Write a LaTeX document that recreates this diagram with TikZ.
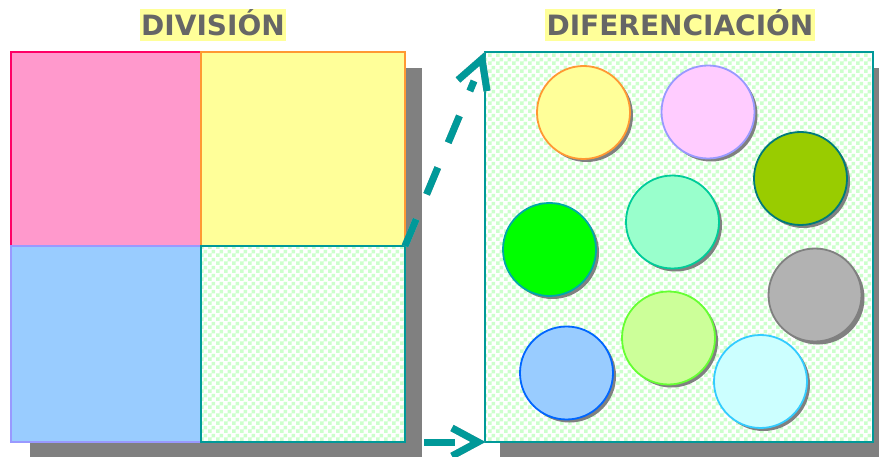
\documentclass[tikz,border=0pt]{standalone}
\usepackage{fontspec}
\setmainfont{DejaVu Sans}
\usetikzlibrary{patterns.meta,shadows}
\definecolor{titlegray}{HTML}{666666}
\definecolor{hilite}{HTML}{FFFF99}
\definecolor{boxshadow}{HTML}{808080}
\definecolor{arrowshadow}{HTML}{A8A8A8}
\definecolor{teal}{HTML}{009999}
\definecolor{checkgreen}{HTML}{CCFFCC}
\definecolor{pinkf}{HTML}{FF99CC}\definecolor{pinkd}{HTML}{FF0066}
\definecolor{yellf}{HTML}{FFFF99}\definecolor{yelld}{HTML}{FF9933}
\definecolor{bluef}{HTML}{99CCFF}\definecolor{blued}{HTML}{9999FF}
\definecolor{lilacf}{HTML}{FFCCFF}
\definecolor{olivef}{HTML}{99CC00}\definecolor{olived}{HTML}{007A7A}
\definecolor{greenf}{HTML}{00FF00}\definecolor{greend}{HTML}{00A8A8}
\definecolor{mintf}{HTML}{99FFCC}\definecolor{mintd}{HTML}{00CC99}
\definecolor{grayf}{HTML}{B2B2B2}\definecolor{grayd}{HTML}{808080}
\definecolor{lgreenf}{HTML}{CCFF99}\definecolor{lgreend}{HTML}{66FF33}
\definecolor{ballbluef}{HTML}{99CCFF}\definecolor{ballblued}{HTML}{0066FF}
\definecolor{cyanf}{HTML}{CCFFFF}\definecolor{cyand}{HTML}{33CCFF}
\tikzdeclarepattern{
  name=mycheck,
  type=uncolored,
  bounding box={(0pt,0pt) and (8pt,8pt)},
  tile size={(8pt,8pt)},
  code={
    \pgfpathrectangle{\pgfpointorigin}{\pgfpoint{4pt}{4pt}}
    \pgfpathrectangle{\pgfpoint{4pt}{4pt}}{\pgfpoint{4pt}{4pt}}
    \pgfusepath{fill}
  }
}
\tikzset{
  title/.style={fill=hilite, text=titlegray, font=\bfseries\fontsize{28}{30}\selectfont,
    text height=20.4pt, text depth=0pt, inner ysep=5.8pt, inner xsep=1.5pt},
  quad/.style={rectangle, inner sep=0pt, outer sep=0pt, line width=1.5pt},
  checkfill/.style={preaction={fill=white}, pattern={mycheck}, pattern color=checkgreen},
  ball/.style={circle, minimum size=93pt, inner sep=0pt, line width=1.8pt,
    drop shadow={shadow xshift=3pt, shadow yshift=-3pt, fill=boxshadow, opacity=1}},
  arrowline/.style={draw=teal, line width=7pt, line cap=butt, line join=miter},
  arrowshade/.style={draw=arrowshadow, line width=7pt, line cap=butt, line join=miter, shift={(3,3)}}
}
\begin{document}
\begin{tikzpicture}[x=1pt,y=-1pt]
\useasboundingbox (0,0) rectangle (879,457);
% titles
\node[title] (t1) at (213,25) {DIVISIÓN};
\node[title] (t2) at (680,25) {DIFERENCIACIÓN};
% shadows of big boxes
\fill[boxshadow] (30,68) rectangle (422,460);
\fill[boxshadow] (500,68) rectangle (890,460);
% left division
\node[quad, fill=pinkf, draw=pinkd, minimum width=190pt, minimum height=194pt] (tl) at (106,149) {};
\node[quad, fill=yellf, draw=yelld, minimum width=204pt, minimum height=194pt] (tr) at (303,149) {};
\node[quad, fill=bluef, draw=blued, minimum width=190pt, minimum height=196pt] (bl) at (106,344) {};
\node[quad, checkfill, draw=teal, minimum width=204pt, minimum height=196pt] (br) at (303,344) {};
% right box
\node[quad, checkfill, draw=teal, line width=2pt, minimum width=388pt, minimum height=390pt] (rb) at (679,247) {};
% balls
\node[ball, fill=yellf, draw=yelld] (b1) at (583.5,112.5) {};
\node[ball, fill=lilacf, draw=blued] (b2) at (708,112) {};
\node[ball, fill=olivef, draw=olived] (b3) at (800.5,178.5) {};
\node[ball, fill=greenf, draw=greend] (b4) at (549.5,249.5) {};
\node[ball, fill=mintf, draw=mintd] (b5) at (672.5,222) {};
\node[ball, fill=grayf, draw=grayd] (b6) at (815,295) {};
\node[ball, fill=lgreenf, draw=lgreend] (b7) at (668.5,338) {};
\node[ball, fill=ballbluef, draw=ballblued] (b8) at (566.5,373) {};
\node[ball, fill=cyanf, draw=cyand] (b9) at (760.5,381.5) {};
% dashed arrow
\coordinate (dA) at (tr.south east);
\coordinate (dB) at (474,81);
\coordinate (dT) at (482,59);
\coordinate (dL) at (458,80);
\coordinate (dR) at (487,91);
\draw[arrowshade, dash pattern=on 29pt off 27pt] (dA) -- (dB);
\draw[arrowshade] (dL) -- (dT) -- (dR);
\draw[arrowline, dash pattern=on 29pt off 27pt] (dA) -- (dB);
\draw[arrowline] (dL) -- (dT) -- (dR);
% horizontal arrow
\coordinate (hA) at (424,442);
\coordinate (hB) at (455,442);
\coordinate (hT) at (478,442);
\coordinate (hL) at (452,428);
\coordinate (hR) at (452,456);
\draw[arrowshade] (hA) -- (hB);
\draw[arrowshade] (hL) -- (hT) -- (hR);
\draw[arrowline] (hA) -- (hB);
\draw[arrowline] (hL) -- (hT) -- (hR);
\end{tikzpicture}
\end{document}
